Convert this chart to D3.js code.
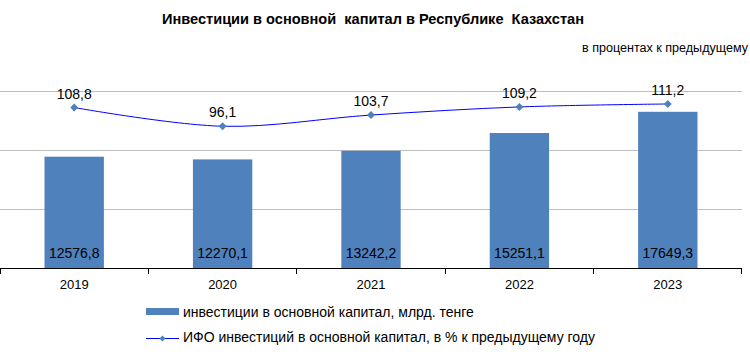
<!DOCTYPE html>
<html lang="ru">
<head>
  <meta charset="UTF-8">
  <title>Инвестиции в основной капитал</title>
  <script src="https://d3js.org/d3.v7.min.js"></script>
  <style>
  body { margin: 0; background: #fff; }
  svg { display: block; }
  text { font-family: "Liberation Sans", Arial, sans-serif; fill: #000; }
  </style>
</head>
<body>
  <div id="chart"></div>
  <script>
  // data
  const years = ["2019", "2020", "2021", "2022", "2023"];
  const invest = [12576.8, 12270.1, 13242.2, 15251.1, 17649.3];
  const ifo = [108.8, 96.1, 103.7, 109.2, 111.2];
  const gridTicks = [40, 80, 120];

  const fmt = v => d3.format(".1f")(v).replace(".", ",");

  const w = 750, h = 362;
  const margin = {top: 91, right: 8, bottom: 94, left: 0};
  const gw = w - margin.left - margin.right;
  const gh = h - margin.top - margin.bottom;

  const svg = d3.select("#chart").append("svg")
    .attr("width", w)
    .attr("height", h);

  // title
  svg.append("text")
    .attr("x", 373).attr("y", 24)
    .attr("text-anchor", "middle")
    .attr("font-weight", "bold")
    .attr("font-size", 14)
    .attr("textLength", 422)
    .attr("lengthAdjust", "spacingAndGlyphs")
    .attr("xml:space", "preserve")
    .text("Инвестиции в основной  капитал в Республике  Казахстан");

  // subtitle (cut at the right edge in the original, kept inside here)
  svg.append("text")
    .attr("x", 582).attr("y", 52)
    .attr("font-size", 12.5)
    .attr("textLength", 166)
    .attr("lengthAdjust", "spacingAndGlyphs")
    .text("в процентах к предыдущему");

  const graph = svg.append("g")
    .attr("transform", `translate(${margin.left},${margin.top})`);

  // scales
  const x = d3.scaleBand()
    .domain(years)
    .range([0, gw])
    .paddingInner(0.6)
    .paddingOuter(0.3);

  const yBar = d3.scaleLinear().domain([0, 20000]).range([gh, 0]);
  const yLine = d3.scaleLinear().domain([0, 120]).range([gh, 0]);

  // gridlines
  graph.append("g")
    .selectAll("line")
    .data(gridTicks)
    .join("line")
      .attr("x1", 0).attr("x2", gw)
      .attr("y1", d => Math.round(yLine(d)) + 0.5)
      .attr("y2", d => Math.round(yLine(d)) + 0.5)
      .attr("stroke", "#bfbfbf");

  // bars
  graph.selectAll("rect.bar")
    .data(invest)
    .join("rect")
      .attr("class", "bar")
      .attr("x", (d, i) => x(years[i]))
      .attr("y", d => yBar(d))
      .attr("width", x.bandwidth())
      .attr("height", d => gh - yBar(d))
      .attr("fill", "#4f81bd");

  graph.selectAll("text.barlab")
    .data(invest)
    .join("text")
      .attr("class", "barlab")
      .attr("x", (d, i) => x(years[i]) + x.bandwidth() / 2)
      .attr("y", gh - 10.5)
      .attr("text-anchor", "middle")
      .attr("font-size", 14)
      .text(fmt);

  // axis
  const xAxisGroup = graph.append("g")
    .attr("transform", `translate(0, ${gh})`);

  xAxisGroup.append("line")
    .attr("x1", 0).attr("x2", gw)
    .attr("y1", 0.5).attr("y2", 0.5)
    .attr("stroke", "#000");

  const bounds = years.map(d => x(d) - x.step() * x.paddingInner() / 2)
    .concat([gw - 0.5]);
  bounds[0] = 0.5;
  xAxisGroup.selectAll("line.tick")
    .data(bounds)
    .join("line")
      .attr("class", "tick")
      .attr("x1", d => Math.round(d - 0.5) + 0.5)
      .attr("x2", d => Math.round(d - 0.5) + 0.5)
      .attr("y1", 0).attr("y2", 6)
      .attr("stroke", "#000");

  xAxisGroup.selectAll("text")
    .data(years)
    .join("text")
      .attr("x", d => x(d) + x.bandwidth() / 2)
      .attr("y", 21)
      .attr("text-anchor", "middle")
      .attr("font-size", 13)
      .text(d => d);

  // line
  const line = d3.line()
    .x((d, i) => x(years[i]) + x.bandwidth() / 2)
    .y(d => yLine(d))
    .curve(d3.curveCardinal.tension(0));

  graph.append("path")
    .datum(ifo)
    .attr("d", line)
    .attr("fill", "none")
    .attr("stroke", "#0000ff")
    .attr("stroke-width", 1);

  const diamond = d3.symbol().type(d3.symbolDiamond2).size(40);

  graph.selectAll("path.marker")
    .data(ifo)
    .join("path")
      .attr("class", "marker")
      .attr("d", diamond)
      .attr("transform", (d, i) => `translate(${x(years[i]) + x.bandwidth() / 2},${yLine(d)})`)
      .attr("fill", "#4f81bd");

  graph.selectAll("text.linelab")
    .data(ifo)
    .join("text")
      .attr("class", "linelab")
      .attr("x", (d, i) => x(years[i]) + x.bandwidth() / 2)
      .attr("y", d => yLine(d) - 9)
      .attr("text-anchor", "middle")
      .attr("font-size", 14)
      .text(fmt);

  // legend
  const legend = svg.append("g")
    .attr("transform", "translate(146, 0)");

  legend.append("rect")
    .attr("x", 0).attr("y", 308)
    .attr("width", 33).attr("height", 7)
    .attr("fill", "#4f81bd");
  legend.append("text")
    .attr("x", 37).attr("y", 317)
    .attr("font-size", 14)
    .text("инвестиции в основной капитал, млрд. тенге");

  legend.append("line")
    .attr("x1", 0).attr("x2", 33)
    .attr("y1", 338.5).attr("y2", 338.5)
    .attr("stroke", "#0000ff");
  legend.append("path")
    .attr("d", d3.symbol().type(d3.symbolDiamond2).size(24))
    .attr("transform", "translate(16.5,338.5)")
    .attr("fill", "#4f81bd");
  legend.append("text")
    .attr("x", 37).attr("y", 342)
    .attr("font-size", 14)
    .text("ИФО инвестиций в основной капитал, в % к предыдущему году");
  </script>
</body>
</html>
